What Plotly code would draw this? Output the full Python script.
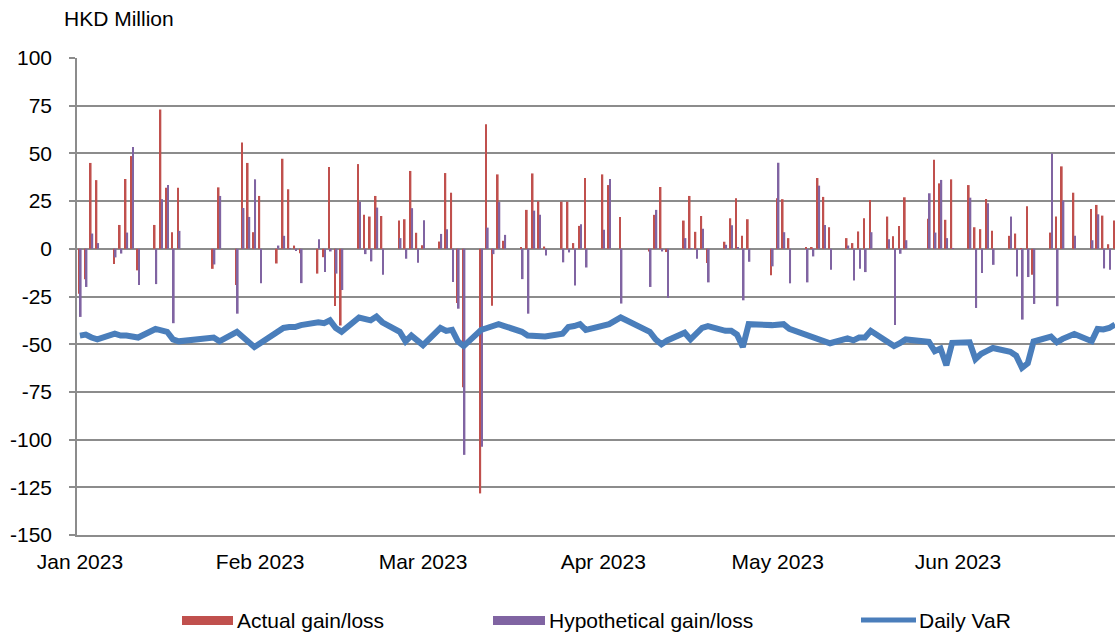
import plotly.graph_objects as go

# ---------------- data ----------------
dates = [
    "2023-01-03", "2023-01-04", "2023-01-05", "2023-01-06", "2023-01-09", "2023-01-10",
    "2023-01-11", "2023-01-12", "2023-01-13", "2023-01-16", "2023-01-17", "2023-01-18",
    "2023-01-19", "2023-01-20", "2023-01-26", "2023-01-27", "2023-01-30", "2023-01-31",
    "2023-02-01", "2023-02-02", "2023-02-03", "2023-02-06", "2023-02-07", "2023-02-08",
    "2023-02-09", "2023-02-10", "2023-02-13", "2023-02-14", "2023-02-15", "2023-02-16",
    "2023-02-17", "2023-02-20", "2023-02-21", "2023-02-22", "2023-02-23", "2023-02-24",
    "2023-02-27", "2023-02-28", "2023-03-01", "2023-03-02", "2023-03-03", "2023-03-06",
    "2023-03-07", "2023-03-08", "2023-03-09", "2023-03-10", "2023-03-13", "2023-03-14",
    "2023-03-15", "2023-03-16", "2023-03-17", "2023-03-20", "2023-03-21", "2023-03-22",
    "2023-03-23", "2023-03-24", "2023-03-27", "2023-03-28", "2023-03-29", "2023-03-30",
    "2023-03-31", "2023-04-03", "2023-04-04", "2023-04-06", "2023-04-11", "2023-04-12",
    "2023-04-13", "2023-04-14", "2023-04-17", "2023-04-18", "2023-04-19", "2023-04-20",
    "2023-04-21", "2023-04-24", "2023-04-25", "2023-04-26", "2023-04-27", "2023-04-28",
    "2023-05-02", "2023-05-03", "2023-05-04", "2023-05-05", "2023-05-08", "2023-05-09",
    "2023-05-10", "2023-05-11", "2023-05-12", "2023-05-15", "2023-05-16", "2023-05-17",
    "2023-05-18", "2023-05-19", "2023-05-22", "2023-05-23", "2023-05-24", "2023-05-25",
    "2023-05-29", "2023-05-30", "2023-05-31", "2023-06-01", "2023-06-02", "2023-06-05",
    "2023-06-06", "2023-06-07", "2023-06-08", "2023-06-09", "2023-06-12", "2023-06-13",
    "2023-06-14", "2023-06-15", "2023-06-16", "2023-06-19", "2023-06-20", "2023-06-21",
    "2023-06-23", "2023-06-26", "2023-06-27", "2023-06-28", "2023-06-29", "2023-06-30",
]

actual = [
    -23.5, -16.0, 45.0, 36.0, -8.0, 12.5,
    36.6, 48.6, -11.3, 12.5, 73.0, 32.0,
    8.7, 32.0, -10.5, 32.2, -19.0, 55.7,
    45.0, 8.7, 27.7, -7.7, 47.2, 31.2,
    1.7, -2.3, -13.0, -4.4, 42.9, -30.0,
    -40.2, 44.4, 17.8, 16.9, 27.7, 17.2,
    14.8, 15.5, 40.8, 8.4, 1.9, 3.8,
    39.7, 29.4, -28.4, -72.5, -128.2, 65.3,
    -29.8, 39.0, 4.2, 0.5, 20.4, 39.5,
    24.9, 1.2, 24.7, 24.7, 3.0, 12.0,
    37.1, 39.0, 33.4, 16.7, -1.4, 17.8,
    32.4, -1.7, 14.8, 27.7, 8.9, 17.2,
    -7.5, 3.7, 16.0, 26.5, 6.8, 15.5,
    -13.9, 26.5, 26.0, 5.6, 0.9, 0.9,
    37.1, 27.2, 11.3, 5.6, 3.0, 9.1,
    16.0, 25.6, 16.9, 6.6, 12.0, 27.0,
    15.7, 46.7, 34.3, 15.2, 36.4, 33.4,
    11.3, 10.3, 26.1, 9.4, 6.8, 8.0,
    0.3, 22.3, -13.6, 8.5, 16.9, 43.2,
    29.4, 20.9, 23.0, 17.4, 2.4, 14.8,
]

hypothetical = [
    -35.7, -20.0, 8.0, 3.0, -4.5, -2.5,
    8.5, 53.3, -19.0, -18.5, 26.0, 33.5,
    -39.0, 9.4, -8.2, 27.7, -34.0, 21.4,
    16.7, 36.4, -18.0, 1.7, 6.8, 0.3,
    -1.2, -18.0, 5.0, -12.2, -1.4, -13.0,
    -21.6, 24.7, -2.8, -6.6, 21.6, -13.6,
    5.6, -5.2, 21.3, -7.3, 15.0, 7.8,
    10.3, -17.4, -31.4, -108.0, -103.8, 11.1,
    -2.8, 24.5, 7.3, -15.9, -34.0, 20.0,
    17.8, -3.5, -7.1, -1.9, -19.2, 12.9,
    -9.8, 10.0, 36.6, -28.7, -20.0, 20.4,
    -1.4, -25.8, 5.6, 0.3, -5.2, 10.5,
    -17.6, 2.1, 12.4, 0.9, -27.0, -6.8,
    -9.2, 45.1, 8.7, -18.1, -17.6, -4.0,
    33.1, 12.5, -11.0, 1.7, -16.6, -10.5,
    -12.2, 8.7, 5.0, -39.9, -2.6, 4.5,
    29.1, 8.5, 36.1, 5.6, 0.3, 26.8,
    -31.0, -12.7, 23.9, -8.4, 16.9, -14.5,
    -37.1, -14.8, -28.9, 50.0, -30.1, 25.3,
    6.8, 4.5, 18.1, -10.3, -11.0, 0.0,
]

daily_var = [
    -45.5, -45.0, -46.5, -47.5, -44.5, -45.5,
    -45.5, -46.0, -46.5, -42.0, -42.5, -43.5,
    -47.5, -48.5, -46.5, -48.5, -43.5, -46.0,
    -49.0, -51.5, -49.5, -44.0, -41.5, -41.0,
    -41.0, -40.0, -38.5, -39.0, -37.5, -41.5,
    -43.5, -36.0, -36.5, -37.5, -35.5, -38.5,
    -43.5, -48.5, -45.5, -48.0, -50.5, -41.5,
    -43.0, -42.5, -48.5, -51.0, -42.5, -41.5,
    -40.5, -39.5, -40.5, -43.5, -45.5, -45.5,
    -45.5, -46.0, -44.5, -41.0, -40.5, -39.5,
    -42.5, -40.5, -39.5, -36.0, -43.5, -47.5,
    -50.0, -48.0, -44.0, -47.5, -44.0, -41.5,
    -40.5, -43.0, -43.0, -45.0, -51.5, -39.5,
    -40.0, -39.5, -39.5, -42.0, -45.5, -46.5,
    -48.0, -48.5, -49.5, -47.0, -48.0, -46.5,
    -46.5, -43.0, -49.5, -51.0, -49.5, -47.5,
    -48.8, -53.7, -52.3, -61.0, -49.3, -49.0,
    -57.8, -55.0, -53.5, -52.0, -54.0, -56.0,
    -62.4, -60.0, -48.6, -46.0, -49.0, -47.2,
    -44.6, -48.4, -42.0, -42.3, -41.5, -39.7,
]

tick_dates = ["2023-01-03", "2023-02-03", "2023-03-03", "2023-04-03", "2023-05-03", "2023-06-03"]
tick_labels = ["Jan 2023", "Feb 2023", "Mar 2023", "Apr 2023", "May 2023", "Jun 2023"]
y_ticks = [100, 75, 50, 25, 0, -25, -50, -75, -100, -125, -150]
y_tick_labels = ["100", "75", "50", "25", "0", "-25", "-50", "-75", "-100", "-125", "-150"]

# ---------------- styling ----------------
RED = "#C0504D"
PURPLE = "#8064A2"
BLUE = "#4A7EBB"
GRID = "#8C8C8C"
FONT = "Liberation Sans, Arial, sans-serif"
FS = 21

W, H = 1115, 632
ML, MR, MT, MB = 77, 0, 58, 97
PW, PH = W - ML - MR, H - MT - MB


def px(x):
    return (x - ML) / PW


def py(y):
    return (H - MB - y) / PH


fig = go.Figure()
fig.add_bar(x=dates, y=actual, name="Actual gain/loss",
            marker=dict(color=RED, line=dict(width=0)), showlegend=False)
fig.add_bar(x=dates, y=hypothetical, name="Hypothetical gain/loss",
            marker=dict(color=PURPLE, line=dict(width=0)), showlegend=False)
fig.add_scatter(x=dates, y=daily_var, mode="lines", name="Daily VaR",
                line=dict(color=BLUE, width=6), showlegend=False)

fig.update_layout(
    width=W, height=H,
    margin=dict(l=ML, r=MR, t=MT, b=MB),
    paper_bgcolor="white", plot_bgcolor="white",
    barmode="group", bargap=0.42, bargroupgap=0,
    font=dict(family=FONT, size=FS, color="#000000"),
    showlegend=False,
)

fig.update_xaxes(
    type="date",
    range=["2023-01-02 12:00", "2023-06-30 00:00"],
    tickvals=tick_dates, ticktext=tick_labels,
    showgrid=False, zeroline=False,
    showline=True, linecolor=GRID, linewidth=1.5,
    ticks="", ticklabelstandoff=7,
    tickfont=dict(family=FONT, size=FS, color="#000000"),
)

fig.update_yaxes(
    range=[-150, 100], tickvals=y_ticks, ticktext=y_tick_labels,
    showgrid=True, gridcolor=GRID, gridwidth=1.5,
    zeroline=False,
    showline=True, linecolor=GRID, linewidth=1.5,
    ticks="outside", ticklen=6, tickcolor=GRID, tickwidth=1.5,
    ticklabelstandoff=13,
    tickfont=dict(family=FONT, size=FS, color="#000000"),
)

# axis unit label
fig.add_annotation(text="HKD Million", xref="paper", yref="paper",
                   x=px(62), y=py(18), xanchor="left", yanchor="middle",
                   showarrow=False, font=dict(family=FONT, size=FS, color="#000000"))

# custom legend along the bottom
legend_y = 620
fig.add_shape(type="rect", xref="paper", yref="paper",
              x0=px(182), x1=px(233), y0=py(625), y1=py(616),
              fillcolor=RED, line=dict(width=0))
fig.add_annotation(text="Actual gain/loss", xref="paper", yref="paper",
                   x=px(235), y=py(legend_y), xanchor="left", yanchor="middle",
                   showarrow=False, font=dict(family=FONT, size=FS, color="#000000"))
fig.add_shape(type="rect", xref="paper", yref="paper",
              x0=px(493), x1=px(545), y0=py(625), y1=py(616),
              fillcolor=PURPLE, line=dict(width=0))
fig.add_annotation(text="Hypothetical gain/loss", xref="paper", yref="paper",
                   x=px(547), y=py(legend_y), xanchor="left", yanchor="middle",
                   showarrow=False, font=dict(family=FONT, size=FS, color="#000000"))
fig.add_shape(type="line", xref="paper", yref="paper",
              x0=px(861), x1=px(916), y0=py(legend_y), y1=py(legend_y),
              line=dict(color=BLUE, width=5))
fig.add_annotation(text="Daily VaR", xref="paper", yref="paper",
                   x=px(917), y=py(legend_y), xanchor="left", yanchor="middle",
                   showarrow=False, font=dict(family=FONT, size=FS, color="#000000"))

fig.write_html(
    "out.html",
    config={"displayModeBar": False},
    post_script="document.body.style.margin='0';document.body.style.overflow='hidden';",
)
